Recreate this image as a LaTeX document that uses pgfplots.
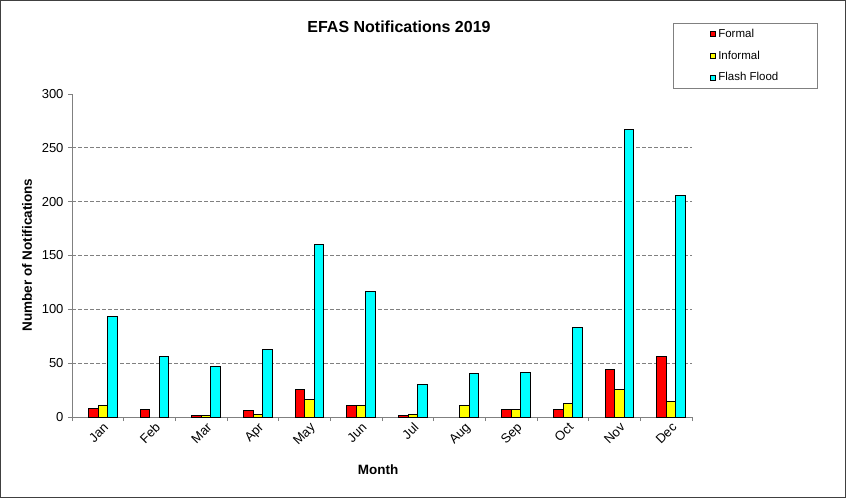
\documentclass[border=0pt]{standalone}
\usepackage{pgfplots}
\pgfplotsset{compat=1.18}
\usepackage{fontspec}
\setmainfont{Liberation Sans}

\definecolor{formal}{RGB}{255,0,0}
\definecolor{informal}{RGB}{255,255,0}
\definecolor{flash}{RGB}{0,255,255}
\definecolor{axgray}{RGB}{128,128,128}

% month index, value (nan = no bar)
\pgfplotstableread{
x formal informal flash
0 8 11 93
1 7 nan 56
2 1 1 47
3 6 2 63
4 26 16 160
5 11 11 117
6 1 2 30
7 nan 11 40
8 7 7 41
9 7 13 83
10 44 26 267
11 56 14 206
}\efas

\begin{document}
\begin{tikzpicture}[x=1pt,y=1pt]
  \draw[line width=1.2pt, black!75] (0.6,0.6) rectangle (845.4,497.4);
  \node[font=\fontsize{16}{19}\selectfont\bfseries] at (399,471) {EFAS Notifications 2019};
  \node[font=\fontsize{13.5}{16}\selectfont\bfseries, rotate=90] at (27,243) {Number of Notifications};
  \node[font=\fontsize{13.5}{16}\selectfont\bfseries] at (378,28) {Month};
  \begin{axis}[
    at={(72pt,81pt)}, anchor=south west,
    scale only axis,
    width=620pt, height=323pt,
    xmin=-0.5, xmax=11.5,
    ymin=0, ymax=300,
    unbounded coords=discard,
    axis x line*=bottom,
    axis y line*=left,
    axis line style={axgray, line width=0.8pt},
    ytick={0,50,...,300},
    xtick={0,...,11},
    xticklabels={Jan,Feb,Mar,Apr,May,Jun,Jul,Aug,Sep,Oct,Nov,Dec},
    minor xtick={-0.5,0.5,...,11.5},
    major x tick style={draw=none},
    minor tick length=4pt,
    major tick length=4pt,
    tick align=outside,
    tick style={axgray, line width=0.8pt},
    /pgf/number format/assume math mode=true,
    tick label style={font=\fontsize{13}{15}\selectfont},
    yticklabel style={xshift=-1pt},
    xticklabel style={rotate=45, anchor=north east, inner sep=1pt, xshift=4pt, yshift=-3pt},
    extra y ticks={50,100,150,200,250},
    extra y tick labels={},
    extra y tick style={grid=major, major grid style={axgray, line width=0.8pt, dash pattern=on 4pt off 2pt}},
    ybar, bar width=9.5pt,
    legend style={at={(0.969,1.2207)}, anchor=north west, draw=axgray,
      font=\fontsize{11.5}{13}\selectfont, inner xsep=37pt, inner ysep=4pt, row sep=8pt},
    legend cell align=left,
    legend image code/.code={\draw[#1, line width=0.8pt] (0.5pt,-2.5pt) rectangle (6pt,2.5pt);},
  ]
  \addplot[fill=formal, draw=black, line width=1pt, bar shift=-4.5pt] table[x=x, y=formal] {\efas};
  \addplot[fill=informal, draw=black, line width=1pt, bar shift=5pt] table[x=x, y=informal] {\efas};
  \addplot[fill=flash, draw=black, line width=1pt, bar shift=14.5pt] table[x=x, y=flash] {\efas};
  \legend{Formal,Informal,Flash Flood}
  \end{axis}
\end{tikzpicture}
\end{document}
